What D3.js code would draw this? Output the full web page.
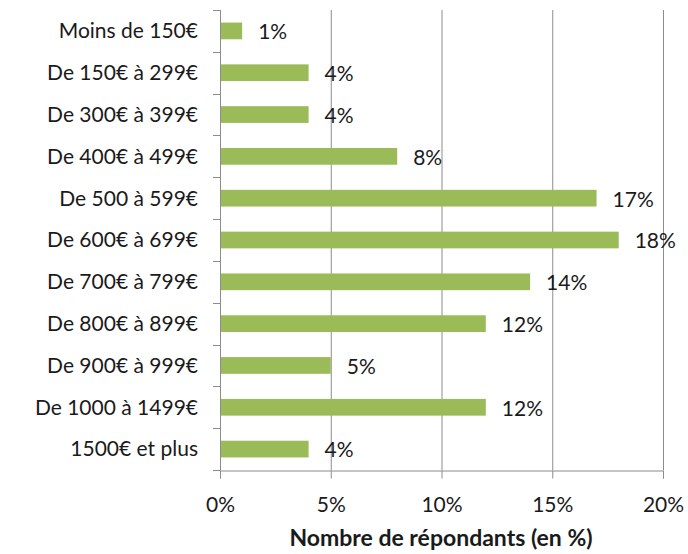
<!DOCTYPE html>
<html><head><meta charset="utf-8">
<script src="https://cdn.jsdelivr.net/npm/d3@7"></script>
<style>body{margin:0;background:#fff}svg{display:block}</style>
</head><body>
<script>
const categories = ["Moins de 150€","De 150€ à 299€","De 300€ à 399€","De 400€ à 499€","De 500 à 599€","De 600€ à 699€","De 700€ à 799€","De 800€ à 899€","De 900€ à 999€","De 1000 à 1499€","1500€ et plus"];
const values = [1,4,4,8,17,18,14,12,5,12,4];
const xTicks = [0,5,10,15,20];
const axisTitle = "Nombre de répondants (en %)";

const W=688,H=554;
const svg=d3.select("body").append("svg").attr("width",W).attr("height",H);
const font="Lato, 'Open Sans', sans-serif";
const fs=21;
const x=d3.scaleLinear().domain([0,20]).range([220,663]);
const y=d3.scaleBand().domain(categories).range([10,470]).paddingInner(0.6).paddingOuter(0.3);
const gridColor="#8c8c8c";

// gridlines
svg.append("g").selectAll("line").data(xTicks.slice(1)).join("line")
  .attr("x1",d=>x(d)+0.5).attr("x2",d=>x(d)+0.5).attr("y1",10).attr("y2",470)
  .attr("stroke",gridColor).attr("stroke-width",1);

// bars
svg.append("g").selectAll("rect").data(values).join("rect")
  .attr("x",x(0)).attr("y",(d,i)=>y(categories[i]))
  .attr("width",d=>x(d)-x(0)).attr("height",y.bandwidth())
  .attr("fill","#9BBB59");

// x axis
const xa=svg.append("g").attr("transform","translate(0,470.5)")
  .call(d3.axisBottom(x).tickValues(xTicks).tickFormat(d=>d+"%").tickSize(8).tickPadding(19));
xa.select(".domain").attr("stroke",gridColor);
xa.selectAll(".tick line").attr("stroke",gridColor);
xa.selectAll("text").attr("font-family",font).attr("font-size",fs).attr("fill","#1a1a1a");

// y axis line and boundary ticks
const bounds=d3.range(categories.length+1).map(i=>10+i*(460/categories.length));
svg.append("line").attr("x1",220.5).attr("x2",220.5).attr("y1",10).attr("y2",470).attr("stroke",gridColor);
svg.append("g").selectAll("line").data(bounds).join("line")
  .attr("x1",213).attr("x2",220.5).attr("y1",d=>Math.round(d)+0.5).attr("y2",d=>Math.round(d)+0.5)
  .attr("stroke",gridColor);

// category labels
svg.append("g").selectAll("text").data(categories).join("text")
  .attr("x",198).attr("y",d=>y(d)+y.bandwidth()/2).attr("dy","0.35em")
  .attr("text-anchor","end").attr("font-family",font).attr("font-size",fs).attr("fill","#1a1a1a")
  .text(d=>d);

// value labels
svg.append("g").selectAll("text").data(values).join("text")
  .attr("x",d=>x(d)+16).attr("y",(d,i)=>y(categories[i])+y.bandwidth()/2).attr("dy","0.4em")
  .attr("font-family",font).attr("font-size",fs).attr("fill","#1a1a1a")
  .text(d=>d+"%");

// axis title
svg.append("text").attr("x",441).attr("y",546).attr("text-anchor","middle")
  .attr("font-family",font).attr("font-weight","bold").attr("font-size",23).attr("fill","#1a1a1a")
  .text(axisTitle);
</script>
</body></html>
